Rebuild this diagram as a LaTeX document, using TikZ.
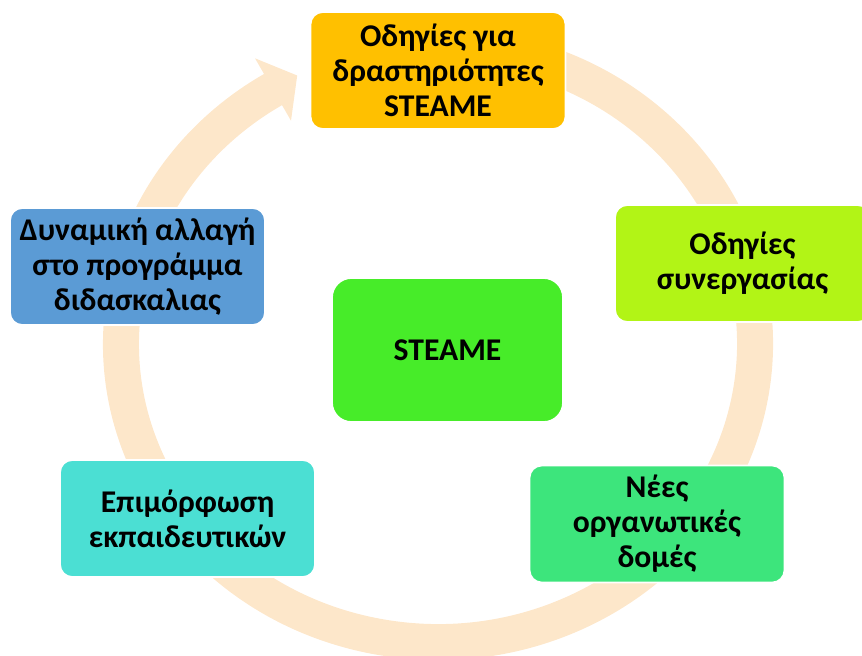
\documentclass[tikz,border=0pt]{standalone}
\usepackage{fontspec}
\setmainfont{Carlito}
\definecolor{ringpeach}{HTML}{FDE7CA}
\definecolor{guidegold}{HTML}{FFC000}
\definecolor{teamlime}{HTML}{B2F416}
\definecolor{planblue}{HTML}{5B9BD5}
\definecolor{trainteal}{HTML}{4BDFD3}
\definecolor{structgreen}{HTML}{3DE57C}
\definecolor{coregreen}{HTML}{47EC29}

\begin{document}
\begin{tikzpicture}[
  stagebox/.style={draw=white,line width=1pt,rounded corners=7pt,
    minimum width=5.100cm,minimum height=2.340cm,inner sep=0pt,
    align=center,font=\bfseries\fontsize{18}{20}\selectfont}
]
\useasboundingbox (0.000,0.000) rectangle (17.240,-13.100);
% ring arrow behind the boxes
\draw[ringpeach,line width=0.720cm] (9.861,-1.011) arc[start angle=80,end angle=-240,x radius=6.340,y radius=5.960];
\coordinate (tip) at (5.944,-1.510);
\coordinate (wingA) at (5.100,-1.166);
\coordinate (wingB) at (5.820,-2.414);
\fill[ringpeach] (tip) -- (wingA) -- (wingB) -- cycle;
% stages
\node[stagebox,fill=guidegold] (guides) at (8.760,-1.410) {Οδηγίες για\\δραστηριότητες\\STEAME};
\node[stagebox,fill=teamlime] (teamwork) at (14.850,-5.270) {Οδηγίες\\συνεργασίας};
\node[stagebox,fill=structgreen] (structures) at (13.140,-10.480) {Νέες\\οργανωτικές\\δομές};
\node[stagebox,fill=trainteal] (training) at (3.750,-10.370) {Επιμόρφωση\\εκπαιδευτικών};
\node[stagebox,fill=planblue] (schedule) at (2.750,-5.330) {Δυναμική αλλαγή\\στο προγράμμα\\διδασκαλιας};
\node[stagebox,fill=coregreen,rounded corners=11pt,minimum width=4.620cm,minimum height=2.880cm] (core) at (8.950,-7.000) {STEAME};
\end{tikzpicture}
\end{document}
